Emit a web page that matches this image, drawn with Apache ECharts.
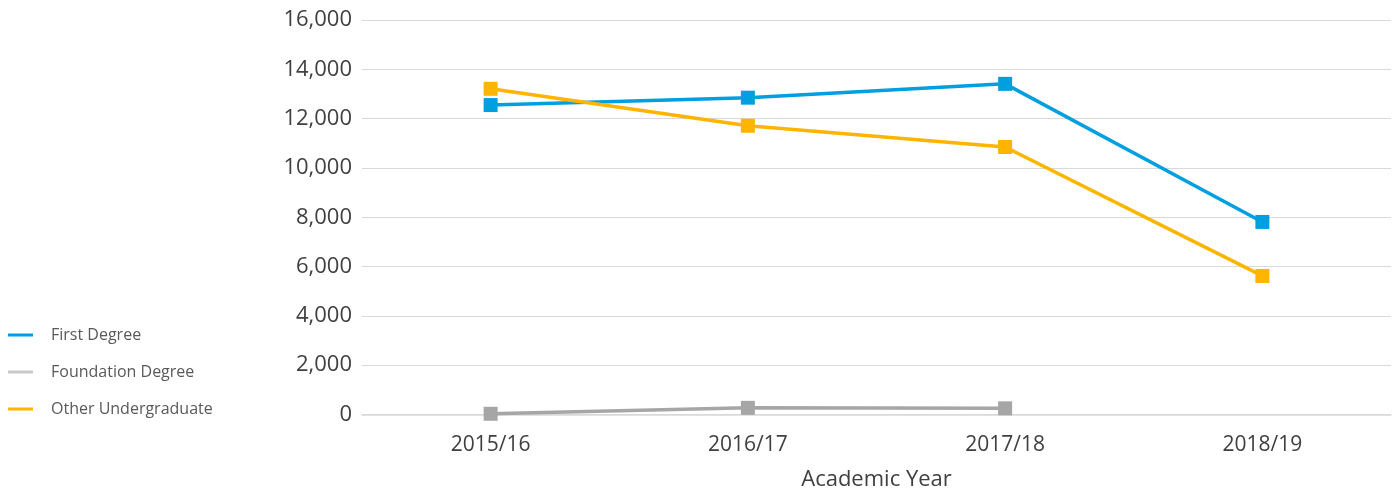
<!DOCTYPE html>
<html>
<head>
<meta charset="utf-8">
<script src="https://cdn.jsdelivr.net/npm/echarts@6/dist/echarts.min.js"></script>
<style>
  html, body { margin: 0; padding: 0; background: #fff; }
  #main { width: 1395px; height: 493px; }
</style>
</head>
<body>
<div id="main"></div>
<script>
// data
var years = ['2015/16', '2016/17', '2017/18', '2018/19'];
var firstDegree = [12550, 12850, 13410, 7810];
var foundationDegree = [30, 270, 250, null];
var otherUndergraduate = [13210, 11710, 10850, 5620];

var font = 'Open Sans';

function lineSeries(name, data, color, legendColor) {
    return {
        name: name,
        type: 'line',
        data: data,
        symbol: 'rect',
        symbolSize: 14,
        lineStyle: { width: 3.5, color: color },
        itemStyle: { color: color },
        color: legendColor || color
    };
}

var myChart = echarts.init(document.getElementById('main'));

var option = {
    animation: false,
    textStyle: { fontFamily: font },
    grid: { left: 362, right: 4, top: 20, bottom: 78.5, outerBoundsMode: 'none' },
    legend: {
        orient: 'vertical',
        left: 8,
        top: 327,
        padding: 0,
        itemGap: 21,
        itemWidth: 25,
        itemHeight: 3,
        textStyle: { fontSize: 16, color: '#595959', fontFamily: font, padding: [0, 0, 0, 13] },
        data: [
            { name: 'First Degree', icon: 'rect', itemStyle: { color: '#009fdf' } },
            { name: 'Foundation Degree', icon: 'rect', itemStyle: { color: '#c9c9c9' } },
            { name: 'Other Undergraduate', icon: 'rect', itemStyle: { color: '#ffb400' } }
        ]
    },
    xAxis: {
        type: 'category',
        data: years,
        boundaryGap: true,
        name: 'Academic Year',
        nameLocation: 'middle',
        nameGap: 54,
        nameTextStyle: { fontSize: 22, color: '#404040' },
        axisLine: { lineStyle: { color: '#d9d9d9', width: 1.5 } },
        axisTick: { show: false },
        axisLabel: { fontSize: 21, color: '#404040', margin: 20 }
    },
    yAxis: {
        type: 'value',
        min: 0,
        max: 16000,
        interval: 2000,
        axisLine: { show: false },
        axisTick: { show: false },
        splitLine: { lineStyle: { color: '#d9d9d9', width: 1 } },
        axisLabel: {
            fontSize: 22,
            color: '#404040',
            margin: 10,
            formatter: function (v) { return v.toLocaleString('en-US'); }
        }
    },
    series: [
        lineSeries('First Degree', firstDegree, '#009fdf'),
        lineSeries('Foundation Degree', foundationDegree, '#a6a6a6', '#c9c9c9'),
        lineSeries('Other Undergraduate', otherUndergraduate, '#ffb400')
    ]
};

myChart.setOption(option);
</script>
</body>
</html>
